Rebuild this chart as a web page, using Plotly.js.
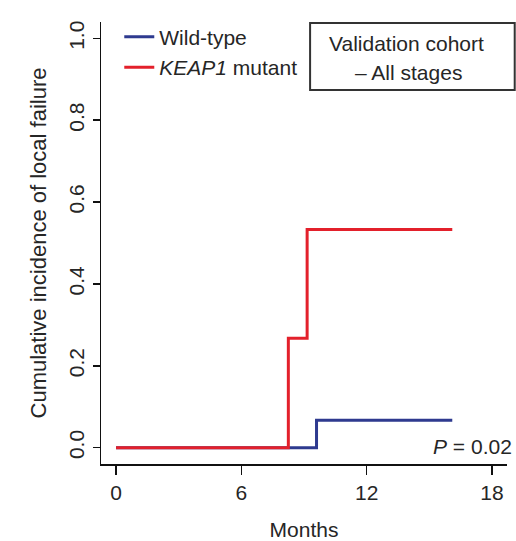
<!DOCTYPE html>
<html>
<head>
<meta charset="utf-8">
<script src="https://cdn.plot.ly/plotly-3.0.1.min.js"></script>
<style>html,body{margin:0;padding:0;background:#fff;}#chart{width:516px;height:541px;}</style>
</head>
<body>
<div id="chart"></div>
<script>
// Data
var seriesNames = ["Wild-type", "<i>KEAP1</i> mutant"];
var wtMonths = [0, 9.6, 16.1];
var wtIncidence = [0, 0.067, 0.067];
var keapMonths = [0, 8.25, 9.15, 16.1];
var keapIncidence = [0, 0.267, 0.533, 0.533];
var xTicks = [0, 6, 12, 18];
var yTicks = [0, 0.2, 0.4, 0.6, 0.8, 1.0];

var FONT = "Liberation Sans, Arial, Helvetica, sans-serif";
var TXT = "#262626";

var traces = [
  {x: wtMonths, y: wtIncidence, name: seriesNames[0], mode: "lines",
   line: {shape: "hv", color: "#2e3a8f", width: 3}},
  {x: keapMonths, y: keapIncidence, name: seriesNames[1], mode: "lines",
   line: {shape: "hv", color: "#e3202b", width: 3}}
];

var layout = {
  width: 516, height: 541,
  margin: {l: 101, r: 9, t: 22, b: 77},
  paper_bgcolor: "#fff", plot_bgcolor: "#fff",
  font: {family: FONT, size: 21, color: TXT},
  showlegend: true,
  legend: {x: 0.045, y: 1.012, xanchor: "left", yanchor: "top",
           bgcolor: "rgba(0,0,0,0)", borderwidth: 0, tracegroupgap: 0,
           itemwidth: 30, font: {family: FONT, size: 21, color: TXT}, traceorder: "normal"},
  xaxis: {range: [-0.72, 18.72], tickvals: xTicks, ticktext: xTicks.map(String),
          showline: true, linecolor: "#111", linewidth: 1.5, mirror: false,
          ticks: "outside", ticklen: 9, tickwidth: 1.5, tickcolor: "#111",
          showgrid: false, zeroline: false,
          tickfont: {family: FONT, size: 21, color: TXT},
          title: {text: "Months", font: {family: FONT, size: 21, color: TXT}, standoff: 22}},
  yaxis: {range: [-0.04, 1.04], tickvals: yTicks, ticktext: yTicks.map(function(v){return v.toFixed(1);}),
          tickangle: -90,
          showline: true, linecolor: "#111", linewidth: 1.5, mirror: false,
          ticks: "outside", ticklen: 7, tickwidth: 1.5, tickcolor: "#111",
          showgrid: false, zeroline: false,
          tickfont: {family: FONT, size: 21, color: TXT},
          title: {text: "Cumulative incidence of local failure", font: {family: FONT, size: 22, color: TXT}, standoff: 12}},
  shapes: [
    {type: "rect", xref: "paper", yref: "paper", x0: 0.515, x1: 1.019, y0: 0.846, y1: 0.998,
     line: {color: "#333", width: 2}, fillcolor: "rgba(0,0,0,0)"}
  ],
  annotations: [
    {xref: "paper", yref: "paper", x: 0.752, y: 0.952, text: "Validation cohort", showarrow: false,
     xanchor: "center", yanchor: "middle", font: {family: FONT, size: 21, color: TXT}},
    {xref: "paper", yref: "paper", x: 0.757, y: 0.886, text: "\u2013 All stages", showarrow: false,
     xanchor: "center", yanchor: "middle", font: {family: FONT, size: 21, color: TXT}},
    {xref: "paper", yref: "paper", x: 1.017, y: 0.04, text: "<i>P</i> = 0.02", showarrow: false,
     xanchor: "right", yanchor: "middle", font: {family: FONT, size: 21, color: TXT}}
  ]
};

Plotly.newPlot("chart", traces, layout, {displayModeBar: false, staticPlot: true});
</script>
</body>
</html>
